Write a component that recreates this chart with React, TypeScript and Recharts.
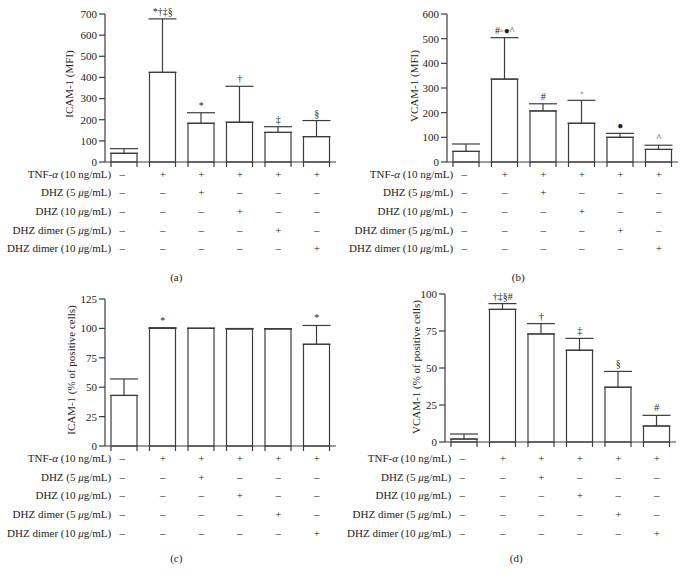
import React from "react";
import { ComposedChart, Bar, XAxis, YAxis, ErrorBar, Scatter, Label } from "recharts";

const categories = ["g1", "g2", "g3", "g4", "g5", "g6"];

const icamMfi = [41, 424, 183, 188, 140, 120];
const icamMfiErr = [22, 253, 50, 170, 27, 76];
const icamMfiMarks = ["", "*†‡§", "*", "†", "‡", "§"];

const vcamMfi = [43, 336, 207, 157, 100, 51];
const vcamMfiErr = [30, 168, 29, 93, 16, 17];
const vcamMfiMarks = ["", "#◦●^", "#", "◦", "●", "^"];

const icamPct = [43, 100, 100, 99.6, 99.6, 86.5];
const icamPctErr = [14, 0.6, 0.2, 0.3, 0.2, 16];
const icamPctMarks = ["", "*", "", "", "", "*"];

const vcamPct = [2, 89.6, 73, 62, 37, 10.8];
const vcamPctErr = [3.4, 3.9, 7, 8, 10.7, 7.2];
const vcamPctMarks = ["", "†‡§#", "†", "‡", "§", "#"];

const tnfRow = ["–", "+", "+", "+", "+", "+"];
const dhz5Row = ["–", "–", "+", "–", "–", "–"];
const dhz10Row = ["–", "–", "–", "+", "–", "–"];
const dimer5Row = ["–", "–", "–", "–", "+", "–"];
const dimer10Row = ["–", "–", "–", "–", "–", "+"];
const treatmentRows = [tnfRow, dhz5Row, dhz10Row, dimer5Row, dimer10Row];

const FONT = '"Liberation Serif", "Times New Roman", serif';
const LINE = "#3c3c3c";
const TEXT = "#222";

function RowLabel({ idx }: { idx: number }) {
  const it = { fontStyle: "italic" as const };
  switch (idx) {
    case 0:
      return (<>TNF-<tspan {...it}>α</tspan> (10 ng/mL)</>);
    case 1:
      return (<>DHZ (5 <tspan {...it}>μ</tspan>g/mL)</>);
    case 2:
      return (<>DHZ (10 <tspan {...it}>μ</tspan>g/mL)</>);
    case 3:
      return (<>DHZ dimer (5 <tspan {...it}>μ</tspan>g/mL)</>);
    default:
      return (<>DHZ dimer (10 <tspan {...it}>μ</tspan>g/mL)</>);
  }
}

function makeTick(rowOffsets: number[], captionOffset: number, caption: string, captionDx: number) {
  return (props: any) => {
    const { x, y, payload } = props;
    const i = payload.index;
    return (
      <g>
        {treatmentRows.map((row, r) => (
          <text
            key={r}
            x={i === 0 ? x - 2 : x}
            y={y + rowOffsets[r]}
            dy="0.35em"
            textAnchor="middle"
            fontSize={11}
            fontFamily={FONT}
            fill={TEXT}
          >
            {row[i]}
          </text>
        ))}
        {i === 0 &&
          treatmentRows.map((_, r) => (
            <text
              key={"l" + r}
              x={x - 13}
              y={y + rowOffsets[r]}
              dy="0.35em"
              textAnchor="end"
              fontSize={11}
              fontFamily={FONT}
              fill={TEXT}
            >
              <RowLabel idx={r} />
            </text>
          ))}
        {i === 0 && (
          <text
            x={x + captionDx}
            y={y + captionOffset}
            dy="0.35em"
            textAnchor="middle"
            fontSize={11}
            fontFamily={FONT}
            fill={TEXT}
          >
            {caption}
          </text>
        )}
      </g>
    );
  };
}

const BarShape = (props: any) => {
  const { x, y, width, height } = props;
  return (
    <g>
      <rect x={x} y={y} width={width} height={height} fill="#fff" stroke={LINE} strokeWidth={1.2} />
      <line x1={x} x2={x} y1={y + height} y2={y + height + 5} stroke={LINE} strokeWidth={1.2} />
      <line x1={x + width} x2={x + width} y1={y + height} y2={y + height + 5} stroke={LINE} strokeWidth={1.2} />
    </g>
  );
};

const MarkShape = (props: any) => {
  const { cx, cy, payload } = props;
  if (!payload.mark) return <g />;
  return (
    <text x={cx} y={cy - 4} textAnchor="middle" fontSize={10} fontFamily={FONT} fill={TEXT}>
      {payload.mark}
    </text>
  );
};

type PanelProps = {
  left: number;
  top: number;
  values: number[];
  errs: number[];
  marks: string[];
  max: number;
  step: number;
  yLabel: string;
  labelX: number;
  labelY: number;
  marginTop: number;
  plotHeight: number;
  yAxisWidth: number;
  rowOffsets: number[];
  captionOffset: number;
  caption: string;
};

function Panel(p: PanelProps) {
  const W = 342;
  const H = 290;
  const data = categories.map((c, i) => ({
    name: c,
    value: p.values[i],
    err: [0, p.errs[i]],
    top: p.values[i] + p.errs[i],
    mark: p.marks[i],
  }));
  const ticks: number[] = [];
  for (let v = 0; v <= p.max; v += p.step) ticks.push(v);
  const xAxisHeight = H - p.marginTop - p.plotHeight;
  const plotWidth = 231;
  const rightMargin = W - p.yAxisWidth - plotWidth;
  return (
    <div style={{ position: "absolute", left: p.left, top: p.top, width: W, height: H }}>
      <ComposedChart
        width={W}
        height={H}
        data={data}
        margin={{ top: p.marginTop, right: rightMargin, left: 0, bottom: 0 }}
        barCategoryGap={0}
      >
        <XAxis
          dataKey="name"
          height={xAxisHeight}
          tickLine={false}
          tickSize={0}
          tickMargin={0}
          axisLine={{ stroke: LINE, strokeWidth: 1.2 }}
          interval={0}
          tick={makeTick(p.rowOffsets, p.captionOffset, p.caption, 52)}
        />
        <YAxis
          width={p.yAxisWidth}
          domain={[0, p.max]}
          ticks={ticks}
          interval={0}
          tickSize={6}
          tickMargin={2}
          tickLine={{ stroke: LINE, strokeWidth: 1.2 }}
          axisLine={{ stroke: LINE, strokeWidth: 1.2 }}
          tick={{ fontSize: 11, fontFamily: FONT, fill: TEXT }}
        >
          <Label
            content={() => (
              <text
                x={p.labelX}
                y={p.labelY}
                transform={`rotate(-90 ${p.labelX} ${p.labelY})`}
                textAnchor="middle"
                dy="0.35em"
                fontSize={11}
                fontFamily={FONT}
                fill={TEXT}
              >
                {p.yLabel}
              </text>
            )}
          />
        </YAxis>
        <Bar dataKey="value" barSize={26} shape={BarShape} isAnimationActive={false}>
          <ErrorBar dataKey="err" width={14} stroke={LINE} strokeWidth={1.2} direction="y" isAnimationActive={false} />
        </Bar>
        <Scatter dataKey="top" shape={MarkShape} isAnimationActive={false} />
      </ComposedChart>
    </div>
  );
}

export default function App() {
  return (
    <div style={{ position: "absolute", left: 0, top: 0, width: 685, height: 582, background: "#fff" }}>
      <Panel
        left={0}
        top={0}
        values={icamMfi}
        errs={icamMfiErr}
        marks={icamMfiMarks}
        max={700}
        step={100}
        yLabel="ICAM-1 (MFI)"
        labelX={69}
        labelY={84}
        marginTop={14}
        plotHeight={148}
        yAxisWidth={105}
        rowOffsets={[12, 30, 49, 68, 86]}
        captionOffset={115}
        caption="(a)"
      />
      <Panel
        left={342}
        top={0}
        values={vcamMfi}
        errs={vcamMfiErr}
        marks={vcamMfiMarks}
        max={600}
        step={100}
        yLabel="VCAM-1 (MFI)"
        labelX={72}
        labelY={86}
        marginTop={14}
        plotHeight={148}
        yAxisWidth={105}
        rowOffsets={[12, 30, 49, 68, 86]}
        captionOffset={115}
        caption="(b)"
      />
      <Panel
        left={0}
        top={285}
        values={icamPct}
        errs={icamPctErr}
        marks={icamPctMarks}
        max={125}
        step={25}
        yLabel="ICAM-1 (% of positive cells)"
        labelX={71}
        labelY={85}
        marginTop={14}
        plotHeight={147}
        yAxisWidth={105}
        rowOffsets={[12, 31, 49, 68, 87]}
        captionOffset={112}
        caption="(c)"
      />
      <Panel
        left={342}
        top={285}
        values={vcamPct}
        errs={vcamPctErr}
        marks={vcamPctMarks}
        max={100}
        step={25}
        yLabel="VCAM-1 (% of positive cells)"
        labelX={74}
        labelY={82}
        marginTop={9}
        plotHeight={148}
        yAxisWidth={103}
        rowOffsets={[16, 35, 53, 72, 91]}
        captionOffset={116}
        caption="(d)"
      />
    </div>
  );
}
